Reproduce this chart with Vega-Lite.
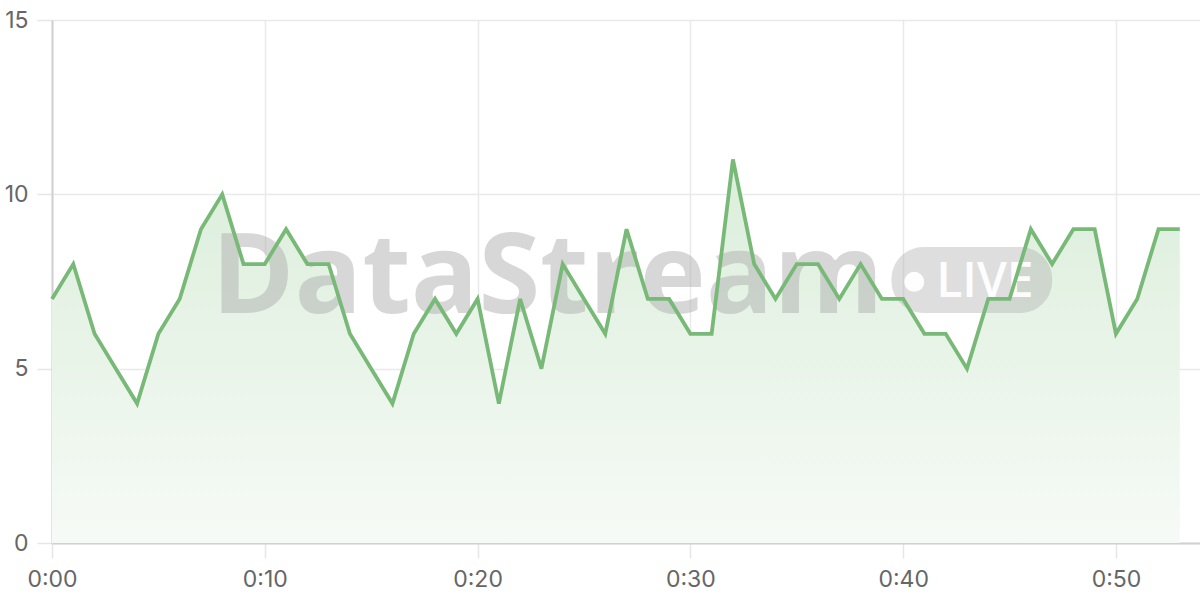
{
  "$schema": "https://vega.github.io/schema/vega-lite/v6.json",
  "width": 1148,
  "height": 523,
  "autosize": {"type": "none"},
  "padding": {"left": 52, "top": 20, "right": 0, "bottom": 57},
  "background": "white",
  "config": {
    "view": {"stroke": null},
    "axis": {
      "labelFont": "Inter",
      "labelFontSize": 23,
      "labelColor": "#666666",
      "labelFlush": false,
      "labelOverlap": false,
      "gridColor": "#e9e9e9",
      "gridWidth": 1.5,
      "tickColor": "#e6e6e6",
      "tickWidth": 1.5,
      "tickSize": 15,
      "domainColor": "#d0d0d0",
      "domainWidth": 2,
      "title": null
    }
  },
  "datasets": {
    "series": [
      {"t": 0, "v": 7}, {"t": 1, "v": 8}, {"t": 2, "v": 6}, {"t": 3, "v": 5},
      {"t": 4, "v": 4}, {"t": 5, "v": 6}, {"t": 6, "v": 7}, {"t": 7, "v": 9},
      {"t": 8, "v": 10}, {"t": 9, "v": 8}, {"t": 10, "v": 8}, {"t": 11, "v": 9},
      {"t": 12, "v": 8}, {"t": 13, "v": 8}, {"t": 14, "v": 6}, {"t": 15, "v": 5},
      {"t": 16, "v": 4}, {"t": 17, "v": 6}, {"t": 18, "v": 7}, {"t": 19, "v": 6},
      {"t": 20, "v": 7}, {"t": 21, "v": 4}, {"t": 22, "v": 7}, {"t": 23, "v": 5},
      {"t": 24, "v": 8}, {"t": 25, "v": 7}, {"t": 26, "v": 6}, {"t": 27, "v": 9},
      {"t": 28, "v": 7}, {"t": 29, "v": 7}, {"t": 30, "v": 6}, {"t": 31, "v": 6},
      {"t": 32, "v": 11}, {"t": 33, "v": 8}, {"t": 34, "v": 7}, {"t": 35, "v": 8},
      {"t": 36, "v": 8}, {"t": 37, "v": 7}, {"t": 38, "v": 8}, {"t": 39, "v": 7},
      {"t": 40, "v": 7}, {"t": 41, "v": 6}, {"t": 42, "v": 6}, {"t": 43, "v": 5},
      {"t": 44, "v": 7}, {"t": 45, "v": 7}, {"t": 46, "v": 9}, {"t": 47, "v": 8},
      {"t": 48, "v": 9}, {"t": 49, "v": 9}, {"t": 50, "v": 6}, {"t": 51, "v": 7},
      {"t": 52, "v": 9}, {"t": 53, "v": 9}
    ],
    "mark": [{"label": "DataStream", "badge": "LIVE"}]
  },
  "layer": [
    {
      "data": {"name": "series"},
      "mark": {
        "type": "area",
        "line": false,
        "fill": {
          "x1": 0, "y1": 0, "x2": 0, "y2": 1,
          "gradient": "linear",
          "stops": [
            {"offset": 0, "color": "#dbeedb"},
            {"offset": 1, "color": "#f6faf6"}
          ]
        }
      },
      "encoding": {
        "x": {
          "field": "t",
          "type": "quantitative",
          "scale": {"domain": [0, 53.95], "nice": false, "zero": false},
          "axis": {
            "values": [0, 10, 20, 30, 40, 50],
            "labelExpr": "'0:' + (datum.value < 10 ? '0' : '') + datum.value",
            "labelPadding": 10,
            "grid": true
          }
        },
        "y": {
          "field": "v",
          "type": "quantitative",
          "scale": {"domain": [0, 15], "nice": false},
          "axis": {"values": [0, 5, 10, 15], "labelPadding": 9, "grid": true}
        }
      }
    },
    {
      "data": {"name": "mark"},
      "mark": {"type": "rect", "cornerRadius": 32, "fill": "#b0b0b0", "opacity": 0.42},
      "encoding": {
        "x": {"datum": 39.45, "type": "quantitative"},
        "x2": {"datum": 47.0},
        "y": {"datum": 8.49, "type": "quantitative"},
        "y2": {"datum": 6.6}
      }
    },
    {
      "data": {"name": "mark"},
      "mark": {
        "type": "text",
        "font": "Open Sans",
        "fontWeight": "bold",
        "fontSize": 112,
        "align": "left",
        "baseline": "alphabetic",
        "fill": "#b0b0b0",
        "opacity": 0.5
      },
      "encoding": {
        "x": {"datum": 7.5, "type": "quantitative"},
        "y": {"datum": 6.6, "type": "quantitative"},
        "text": {"field": "label"}
      }
    },
    {
      "data": {"name": "mark"},
      "mark": {"type": "point", "shape": "circle", "filled": true, "size": 400, "fill": "white", "opacity": 0.95},
      "encoding": {
        "x": {"datum": 40.52, "type": "quantitative"},
        "y": {"datum": 7.49, "type": "quantitative"}
      }
    },
    {
      "data": {"name": "mark"},
      "mark": {
        "type": "text",
        "font": "Open Sans",
        "fontWeight": 600,
        "fontSize": 48,
        "align": "left",
        "baseline": "alphabetic",
        "fill": "white",
        "opacity": 0.95
      },
      "encoding": {
        "x": {"datum": 41.55, "type": "quantitative"},
        "y": {"datum": 7.05, "type": "quantitative"},
        "text": {"field": "badge"}
      }
    },
    {
      "data": {"name": "series"},
      "mark": {"type": "line", "stroke": "#78b978", "strokeWidth": 3.8, "strokeJoin": "miter"},
      "encoding": {
        "x": {"field": "t", "type": "quantitative"},
        "y": {"field": "v", "type": "quantitative"}
      }
    }
  ]
}
